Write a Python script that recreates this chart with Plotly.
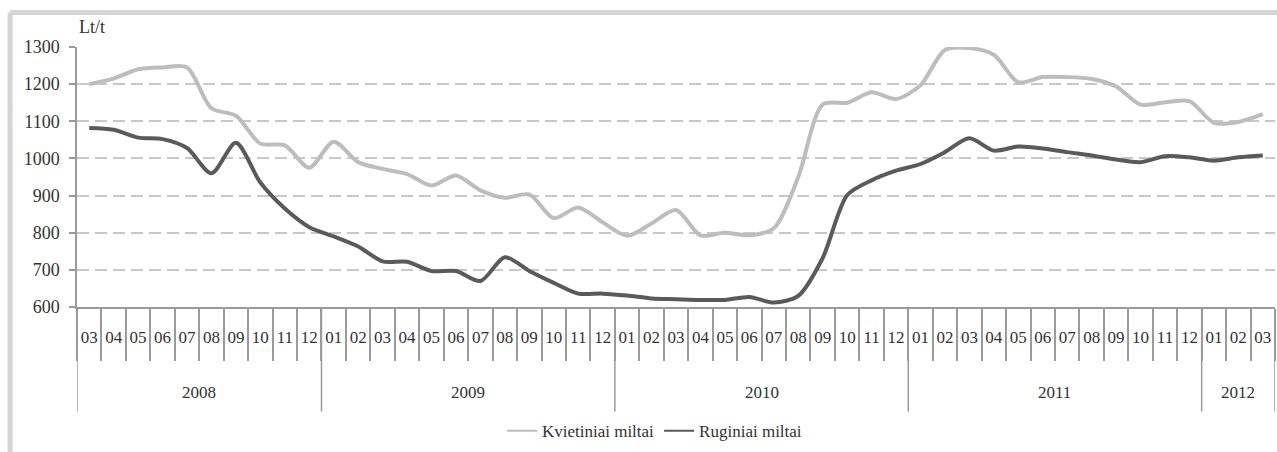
import plotly.graph_objects as go

# Monthly flour prices, Lt/t, March 2008 - March 2012
months = ["03", "04", "05", "06", "07", "08", "09", "10", "11", "12",
          "01", "02", "03", "04", "05", "06", "07", "08", "09", "10", "11", "12",
          "01", "02", "03", "04", "05", "06", "07", "08", "09", "10", "11", "12",
          "01", "02", "03", "04", "05", "06", "07", "08", "09", "10", "11", "12",
          "01", "02", "03"]
years = ["2008", "2009", "2010", "2011", "2012"]
months_per_year = [10, 12, 12, 12, 3]

kvietiniai = [1200, 1215, 1240, 1245, 1245, 1135, 1115, 1040, 1035, 975,
              1045, 990, 972, 958, 927, 954, 914, 894, 903, 839, 868, 828,
              792, 825, 861, 793, 800, 793, 812, 950, 1145, 1150, 1178, 1160,
              1197, 1292, 1297, 1279, 1205, 1219, 1219, 1214, 1194, 1145, 1151, 1154,
              1096, 1098, 1119]
ruginiai = [1082, 1077, 1056, 1052, 1028, 960, 1042, 935, 865, 815,
            790, 763, 723, 722, 697, 697, 670, 734, 697, 665, 636, 636,
            631, 623, 621, 619, 619, 627, 612, 630, 732, 901, 941, 967,
            985, 1017, 1054, 1021, 1032, 1027, 1017, 1008, 997, 990, 1006, 1003,
            994, 1003, 1008]

series_names = ["Kvietiniai miltai", "Ruginiai miltai"]
series_colors = ["#bdbdbd", "#5a5a5a"]

FONT = "Liberation Serif"
TEXT = "#333333"
AXIS = "#9a9a9a"

idx = list(range(len(months)))
n = len(months)

fig = go.Figure()
for name, vals, col in zip(series_names, [kvietiniai, ruginiai], series_colors):
    fig.add_trace(go.Scatter(
        x=idx, y=vals, mode="lines", name=name, showlegend=False,
        line=dict(color=col, width=4, shape="spline", smoothing=0.8),
        hoverinfo="skip"))
    # thinner entry for the legend key
    fig.add_trace(go.Scatter(
        x=[None], y=[None], mode="lines", name=name,
        line=dict(color=col, width=2)))

# category boundaries along the month axis
bounds = [k - 0.5 for k in range(n + 1)]
year_bounds = [-0.5]
for m in months_per_year:
    year_bounds.append(year_bounds[-1] + m)

shapes = []
for b in year_bounds:
    shapes.append(dict(type="line", xref="x", yref="paper", x0=b, x1=b,
                       y0=0, y1=-0.402, line=dict(color=AXIS, width=1.5)))

# outer frame (left and top edges)
FRAME = dict(color="#d4d4d4", width=5)
shapes.append(dict(type="line", xref="paper", yref="paper",
                   x0=-0.0559, x1=-0.0559, y0=-0.9, y1=1.1325, line=FRAME))
shapes.append(dict(type="line", xref="paper", yref="paper",
                   x0=-0.0559, x1=1.1, y0=1.1325, y1=1.1325, line=FRAME))

annotations = []
for y, lo, hi in zip(years, year_bounds[:-1], year_bounds[1:]):
    annotations.append(dict(text=y, xref="x", yref="paper", x=(lo + hi) / 2,
                            y=-0.33, showarrow=False, yanchor="middle",
                            font=dict(family=FONT, size=17, color=TEXT)))
annotations.append(dict(text="Lt/t", xref="paper", yref="paper", x=0, y=1.076,
                        xanchor="left", yanchor="middle", showarrow=False,
                        font=dict(family=FONT, size=18, color=TEXT)))

fig.update_layout(
    width=1277, height=452,
    margin=dict(l=77, r=2, t=47, b=143),
    paper_bgcolor="white", plot_bgcolor="white",
    font=dict(family=FONT, size=17, color=TEXT),
    shapes=shapes, annotations=annotations,
    legend=dict(orientation="h", x=0.482, y=-0.478, xanchor="center",
                yanchor="middle", font=dict(family=FONT, size=17, color=TEXT),
                bgcolor="rgba(0,0,0,0)"),
    xaxis=dict(
        range=[-0.5, n - 0.5], tickmode="array", tickvals=idx, ticktext=months,
        ticks="", showgrid=False, zeroline=False,
        showline=True, linecolor=AXIS, linewidth=1.5,
        ticklabelstandoff=14,
        tickfont=dict(family=FONT, size=17, color=TEXT),
        minor=dict(tickmode="array", tickvals=bounds, ticks="outside",
                   ticklen=52, tickcolor=AXIS, tickwidth=1.5, showgrid=False),
    ),
    yaxis=dict(
        range=[600, 1300], tickmode="array",
        tickvals=[600, 700, 800, 900, 1000, 1100, 1200, 1300],
        ticks="outside", ticklen=6, tickcolor=AXIS, tickwidth=1.5,
        showline=True, linecolor=AXIS, linewidth=1.5,
        showgrid=True, gridcolor="#c8c8c8", gridwidth=2, griddash="12px,6px",
        zeroline=False, ticklabelstandoff=6,
        tickfont=dict(family=FONT, size=18, color=TEXT),
    ),
)

fig.write_html("out.html")
